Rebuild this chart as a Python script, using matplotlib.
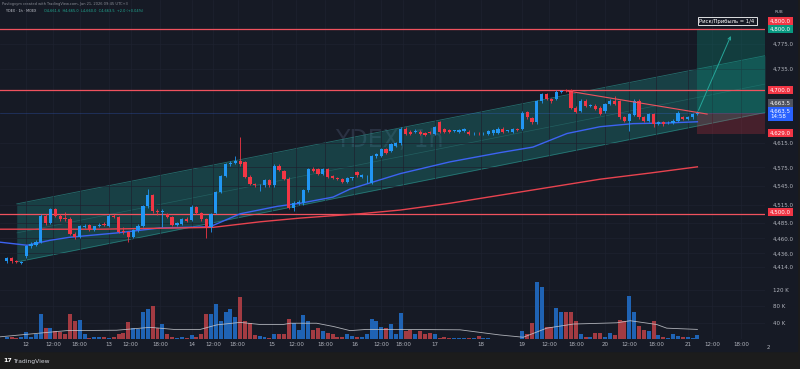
import numpy as np
import matplotlib.pyplot as plt
from matplotlib.patches import Rectangle
from matplotlib.transforms import blended_transform_factory

# ---- data (hourly bars, index 0..142) ----
opens = [4424, 4428, 4423, 4421, 4432, 4447, 4450, 4454, 4497, 4485,
         4507, 4496, 4493, 4492, 4468, 4462, 4479, 4482, 4474, 4480,
         4484, 4480, 4497, 4495, 4472, 4470, 4462, 4473, 4481, 4512,
         4530, 4505, 4503, 4500, 4495, 4482, 4484, 4492, 4490, 4511,
         4501, 4491, 4478, 4502, 4535, 4561, 4580, 4583, 4585, 4584,
         4560, 4548, 4546, 4546, 4554, 4546, 4578, 4569, 4557, 4510,
         4518, 4518, 4538, 4572, 4572, 4564, 4572, 4561, 4558, 4556,
         4552, 4558, 4567, 4560, 4561, 4550, 4593, 4594, 4605, 4602,
         4610, 4614, 4638, 4633, 4632, 4633, 4631, 4632, 4629, 4649,
         4637, 4636, 4634, 4633, 4634, 4633, 4630, 4631, 4630, 4629,
         4630, 4631, 4638, 4634, 4633, 4637, 4637, 4665, 4655, 4648,
         4682, 4694, 4686, 4686, 4697, 4700, 4700, 4672, 4667, 4683,
         4675, 4675, 4672, 4666, 4678, 4683, 4682, 4656, 4651, 4660,
         4683, 4656, 4651, 4662, 4645, 4649, 4648, 4647, 4651, 4656,
         4654, 4656, 4662]
closes = [4428, 4423, 4422, 4422, 4447, 4451, 4455, 4497, 4485, 4507,
          4496, 4491, 4491, 4468, 4462, 4480, 4481, 4474, 4480, 4482,
          4482, 4497, 4495, 4471, 4471, 4462, 4473, 4481, 4512, 4530,
          4505, 4503, 4505, 4495, 4482, 4485, 4491, 4489, 4511, 4501,
          4491, 4478, 4500, 4535, 4561, 4581, 4583, 4585, 4580, 4560,
          4548, 4547, 4546, 4554, 4546, 4578, 4571, 4557, 4510, 4518,
          4518, 4538, 4572, 4570, 4564, 4572, 4560, 4558, 4556, 4552,
          4558, 4558, 4562, 4562, 4561, 4593, 4596, 4605, 4599, 4613,
          4615, 4638, 4629, 4629, 4634, 4629, 4628, 4631, 4640, 4632,
          4633, 4633, 4634, 4636, 4637, 4629, 4630, 4630, 4631, 4634,
          4636, 4638, 4633, 4634, 4637, 4636, 4664, 4656, 4648, 4683,
          4694, 4686, 4682, 4698, 4699, 4699, 4671, 4665, 4683, 4675,
          4675, 4670, 4662, 4678, 4683, 4678, 4656, 4651, 4662, 4683,
          4656, 4651, 4662, 4645, 4649, 4645, 4648, 4651, 4664, 4654,
          4656, 4662, 4663.5]
highs = [4430, 4430, 4425, 4424, 4449, 4454, 4457, 4500, 4499, 4510,
         4509, 4499, 4503, 4494, 4470, 4482, 4484, 4484, 4481, 4485,
         4486, 4500, 4500, 4497, 4478, 4472, 4475, 4483, 4514, 4540,
         4532, 4507, 4507, 4502, 4497, 4487, 4493, 4494, 4514, 4513,
         4503, 4493, 4502, 4537, 4563, 4583, 4586, 4594, 4624, 4586,
         4562, 4550, 4549, 4556, 4556, 4580, 4580, 4571, 4559, 4520,
         4522, 4540, 4574, 4575, 4574, 4574, 4574, 4563, 4560, 4558,
         4560, 4560, 4570, 4564, 4563, 4595, 4598, 4607, 4607, 4615,
         4617, 4640, 4640, 4635, 4637, 4635, 4633, 4634, 4642, 4651,
         4639, 4638, 4636, 4638, 4639, 4635, 4632, 4633, 4633, 4636,
         4638, 4640, 4640, 4636, 4639, 4639, 4666, 4667, 4657, 4685,
         4696, 4696, 4688, 4700, 4701, 4702, 4702, 4674, 4686, 4686,
         4677, 4677, 4674, 4680, 4686, 4690, 4684, 4658, 4663, 4686,
         4686, 4658, 4664, 4664, 4651, 4651, 4650, 4653, 4666, 4658,
         4658, 4664, 4666]
lows = [4421, 4421, 4420, 4419, 4428, 4444, 4447, 4452, 4482, 4483,
        4494, 4488, 4489, 4466, 4459, 4460, 4477, 4472, 4472, 4478,
        4480, 4478, 4493, 4469, 4467, 4455, 4460, 4471, 4479, 4510,
        4502, 4498, 4478, 4493, 4480, 4480, 4482, 4487, 4488, 4499,
        4489, 4461, 4470, 4500, 4533, 4559, 4578, 4581, 4578, 4558,
        4546, 4544, 4537, 4544, 4544, 4544, 4569, 4555, 4508, 4505,
        4515, 4515, 4536, 4568, 4562, 4562, 4558, 4556, 4554, 4550,
        4550, 4555, 4560, 4558, 4550, 4548, 4590, 4592, 4597, 4600,
        4608, 4612, 4627, 4627, 4630, 4627, 4626, 4629, 4627, 4630,
        4631, 4631, 4632, 4631, 4632, 4627, 4628, 4628, 4628, 4627,
        4628, 4629, 4631, 4632, 4631, 4634, 4635, 4654, 4646, 4646,
        4680, 4684, 4680, 4684, 4695, 4697, 4669, 4663, 4665, 4673,
        4673, 4668, 4660, 4664, 4676, 4676, 4654, 4649, 4634, 4658,
        4654, 4649, 4649, 4640, 4643, 4642, 4646, 4645, 4649, 4652,
        4652, 4654, 4660]
volumes_k = [6, 5, 3, 6, 17, 6, 14, 61, 27, 28,
             19, 17, 12, 61, 44, 47, 13, 2, 6, 5,
             5, 3, 6, 14, 16, 41, 27, 24, 65, 73,
             81, 27, 37, 13, 5, 3, 6, 2, 10, 5,
             13, 61, 61, 85, 45, 66, 73, 55, 102, 45,
             39, 10, 9, 6, 4, 14, 14, 12, 50, 40,
             23, 59, 45, 23, 27, 21, 16, 14, 6, 5,
             14, 8, 5, 6, 12, 49, 45, 29, 28, 36,
             14, 63, 19, 23, 12, 19, 12, 15, 12, 2,
             6, 3, 2, 2, 2, 2, 3, 8, 3, 2,
             1, 1, 1, 1, 1, 1, 20, 13, 39, 140,
             128, 31, 31, 75, 65, 65, 67, 44, 13, 5,
             5, 16, 16, 5, 16, 10, 48, 45, 105, 65,
             32, 23, 19, 44, 10, 5, 2, 13, 8, 5,
             5, 2, 10]

# moving averages (read points: bar index, value)
ma_fast_x = [-1.4, 4.2, 8.9, 13, 22.7, 31.5, 41.8, 48, 55.6, 60.3, 67.1, 70.6,
             80.9, 91.1, 101.4, 108.2, 115.2, 122, 128.8, 135.7, 142]
ma_fast_y = [4454, 4449, 4457, 4462, 4469, 4477, 4479, 4500, 4512, 4517, 4527, 4540,
             4565, 4584, 4599, 4608, 4630, 4641, 4646, 4647, 4649]
ma_slow_x = [-1.4, 19.2, 42.4, 52.1, 60.3, 72.6, 80.9, 91.1, 101.4, 111.7, 122, 132.3, 142]
ma_slow_y = [4475, 4475, 4478, 4487, 4493, 4500, 4506, 4517, 4530, 4543, 4556, 4566, 4576]
vol_ma_x = [-1.4, 12.3, 22.6, 29.5, 34.3, 39.8, 43.2, 48, 52, 56.9, 58.3, 63.7, 67.2,
            70.6, 74, 80.9, 93.2, 101.4, 106.2, 108.3, 111, 116.5, 125.4, 128.2,
            133.6, 135.7, 142]
vol_ma_y = [6, 21, 22, 29, 24, 24, 35, 41, 36, 36, 39, 39, 31,
            21, 24, 24, 23, 10.5, 5, 14.5, 27, 37, 40, 45,
            36, 27, 24]

# regression channel, trendline, long position
channel_x = [2.06, 155.9]
channel_hi = [4516, 4756]
channel_lo = [4422, 4664]
trend_x = [115.2, 144]
trend_y = [4699, 4661.5]
levels = [4800, 4700, 4500]
entry, target, stop = 4663.5, 4800.0, 4629.0
entry_bar = 142

price_ticks = [4775, 4735, 4615, 4575, 4545, 4515, 4485, 4460, 4436, 4414]
vol_ticks = [40, 80, 120]
time_pos = [4, 9.5, 15, 21, 25.5, 31.5, 38, 42.5, 47.5, 54.5, 59.5, 65.5, 71.5,
            77, 81.5, 88, 97.5, 106, 111.5, 117, 123, 128, 133.5, 140, 145, 151]
time_labels = ['12', '12:00', '18:00', '13', '12:00', '18:00', '14', '12:00', '18:00',
               '15', '12:00', '18:00', '16', '12:00', '18:00', '17', '18', '19',
               '12:00', '18:00', '20', '12:00', '18:00', '21', '12:00', '18:00']

# ---- style ----
W, H = 800, 369
BG = '#161a25'
UP, DN = '#2196f3', '#f23645'
VUP, VDN = '#1f63b4', '#a33b42'
TXT = '#b2b5be'
GRID = '#1e2230'

fig = plt.figure(figsize=(W / 100, H / 100), dpi=100, facecolor='#1c1c1c')
fig.add_artist(Rectangle((0, 1 - 351 / H), 797 / W, 351 / H, transform=fig.transFigure,
                         color=BG, zorder=-10))

ax = fig.add_axes([0, 1 - 282 / H, 765 / W, 282 / H], facecolor='none')
axv = fig.add_axes([0, 1 - 339.3 / H, 765 / W, 59.3 / H], facecolor='none', sharex=ax)
ax.set_zorder(2)

x = np.arange(len(opens))
o = np.array(opens, float)
c = np.array(closes, float)
up = c >= o
cols = np.where(up, UP, DN)

# candles
body = np.maximum(np.abs(c - o), 0.9)
ax.vlines(x, lows, highs, color=cols, lw=0.6, zorder=4)
ax.bar(x, body, bottom=np.minimum(o, c), width=0.66, color=cols, lw=0, zorder=5)

# regression channel
ax.fill_between(channel_x, channel_lo, channel_hi, color='#1fa39a', alpha=0.28, lw=0, zorder=1)
ax.plot(channel_x, channel_hi, color='#2b8f8a', lw=0.6, alpha=0.7, zorder=1)
ax.plot(channel_x, channel_lo, color='#2b8f8a', lw=0.6, alpha=0.7, zorder=1)
ax.plot(channel_x, [(a + b) / 2 for a, b in zip(channel_lo, channel_hi)],
        color='#3aa7a0', lw=0.5, alpha=0.3, zorder=1)

# horizontal levels
for lv in levels:
    ax.axhline(lv, color='#f0525e', lw=0.9, zorder=3)
ax.axhline(entry, color='#3a6df0', lw=0.5, alpha=0.35, zorder=2)

# moving averages
ax.plot(ma_fast_x, ma_fast_y, color='#3d63f2', lw=1.0, zorder=3)
ax.plot(ma_slow_x, ma_slow_y, color='#e8434f', lw=1.0, zorder=3)

# trendline
ax.plot(trend_x, trend_y, color='#f0525e', lw=0.8, zorder=6)

# long position tool
xr = channel_x[1]
ax.add_patch(Rectangle((entry_bar, entry), xr - entry_bar, target - entry,
                       color='#089981', alpha=0.28, lw=0, zorder=2))
ax.add_patch(Rectangle((entry_bar, stop), xr - entry_bar, entry - stop,
                       color='#f23645', alpha=0.22, lw=0, zorder=2))
ax.annotate('', xy=(149.1, 4792), xytext=(entry_bar, entry),
            arrowprops=dict(arrowstyle='->', color='#26a69a', lw=0.7,
                            mutation_scale=5), zorder=6)
ax.text(148.1, 4812, 'Риск/Прибыль = 1/4', fontsize=3.8, color='white',
        ha='center', va='center', zorder=7,
        bbox=dict(boxstyle='square,pad=0.35', fc=BG, ec='white', lw=0.6))

# watermark
ax.text(67.5, 4620, 'YDEX, 1h', fontsize=17, color='#2a3142', ha='left',
        va='center', zorder=0.5)

ax.set_xlim(-1.38, 155.9)
ax.set_ylim(4389.5, 4846.2)

# price axis
ax.yaxis.tick_right()
ax.set_yticks(price_ticks)
ax.set_yticklabels([f'{v:,.1f}' for v in price_ticks])
ax.tick_params(axis='y', length=0, pad=5.5, labelsize=4, labelcolor=TXT)
ax.tick_params(axis='x', length=0, labelbottom=False)
ax.set_xticks(time_pos)
ax.grid(True, color=GRID, lw=0.5)
for s in ax.spines.values():
    s.set_visible(False)

tr = blended_transform_factory(ax.transAxes, ax.transData)
tags = [(4812.1, '4,800.0', DN), (4799.2, '4,800.0', '#089981'),
        (4700.4, '4,700.0', DN), (4679.4, '4,663.5', '#50535e'),
        (4661.4, '4,663.5\n14:58', '#2962ff'), (4630.8, '4,629.0', DN),
        (4502.8, '4,500.0', DN)]
for yv, lab, col in tags:
    ax.text(1.0065, yv, lab, transform=tr, fontsize=4, color='white', ha='left',
            va='center', linespacing=1.15, clip_on=False, zorder=8,
            bbox=dict(boxstyle='square,pad=0.3', fc=col, ec='none'))
ax.text(1.012, 0.958, 'RUB', transform=ax.transAxes, fontsize=3, color=TXT, ha='left',
        va='center', clip_on=False)

# volume
vcols = np.where(up, VUP, VDN)
axv.bar(x, volumes_k, width=0.82, color=vcols, lw=0, zorder=2)
axv.plot(vol_ma_x, vol_ma_y, color='#c8cad0', lw=0.6, alpha=0.85, zorder=3)
axv.set_ylim(0, 143.8)
axv.yaxis.tick_right()
axv.set_yticks(vol_ticks)
axv.set_yticklabels([f'{v} K' for v in vol_ticks])
axv.tick_params(axis='y', length=0, pad=5.5, labelsize=4, labelcolor=TXT)
axv.set_xticks(time_pos)
axv.set_xticklabels(time_labels)
axv.tick_params(axis='x', length=0, pad=2.2, labelsize=4, labelcolor=TXT)
axv.grid(True, color=GRID, lw=0.5)
for s in axv.spines.values():
    s.set_visible(False)
axv.text(156.5, -0.1, '2', transform=blended_transform_factory(axv.transData, axv.transAxes),
         fontsize=4, color=TXT, ha='center', va='top', clip_on=False)

# header / footer
fig.text(2 / W, 1 - 3.5 / H, 'Pavlogvym created with TradingView.com, Jan 21, 2026 09:45 UTC+3',
         fontsize=2.6, color='#8a8d96', ha='left', va='center')
fig.text(6 / W, 1 - 11 / H, 'YDEX · 1h · MOEX', fontsize=2.4, color='#c9ccd4',
         ha='left', va='center')
fig.text(44 / W, 1 - 11 / H, 'O4,661.6  H4,665.0  L4,660.0  C4,663.5  +2.0 (+0.04%)',
         fontsize=2.5, color='#22ab94', ha='left', va='center')
fig.text(3 / W, 1 - 361 / H, '17', fontsize=4.5, color='white', fontweight='bold',
         ha='left', va='center')
fig.text(13 / W, 1 - 361 / H, 'TradingView', fontsize=4.3, color='#d1d4dc',
         ha='left', va='center')

fig.savefig('out.png', dpi=100, facecolor=fig.get_facecolor())
